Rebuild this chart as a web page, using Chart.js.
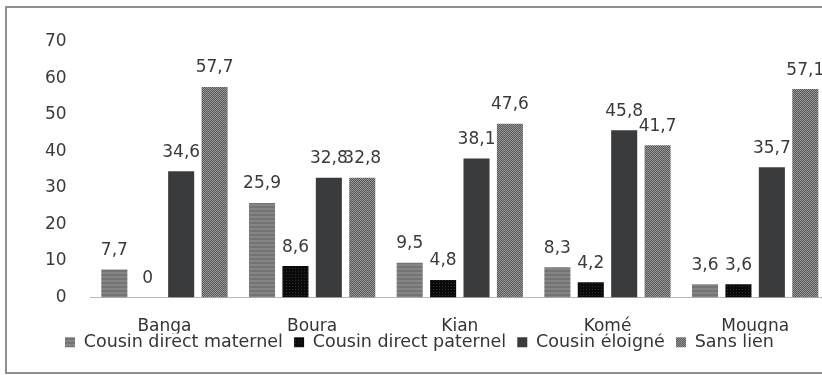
<!DOCTYPE html>
<html>
<head>
<meta charset="utf-8">
<script src="https://cdn.jsdelivr.net/npm/chart.js@4/dist/chart.umd.min.js"></script>
<style>
  html, body { margin: 0; padding: 0; background: #fff; overflow: hidden; }
  #frame { position: absolute; left: 5px; top: 6px; width: 900px; height: 364px;
           border: 2px solid #8f8f8f; border-right: none; }
  #wrap { position: absolute; left: 0; top: 0; width: 832px; height: 375px; }
</style>
</head>
<body>
<div id="frame"></div>
<div id="wrap"><canvas id="parente" width="832" height="375"></canvas></div>
<script>
let villages = ['Banga', 'Boura', 'Kian', 'Komé', 'Mougna']
let maternel = [7.7, 25.9, 9.5, 8.3, 3.6]
let paternel = [0, 8.6, 4.8, 4.2, 3.6]
let eloigne = [34.6, 32.8, 38.1, 45.8, 35.7]
let sansLien = [57.7, 32.8, 47.6, 41.7, 57.1]
let yTicks = [0, 10, 20, 30, 40, 50, 60, 70]

let FONT = 'DejaVu Sans'

// little textures like the scanned original
function makePattern(w, h, draw) {
  let c = document.createElement('canvas')
  c.width = w
  c.height = h
  let g = c.getContext('2d')
  draw(g)
  return g.createPattern(c, 'repeat')
}

let stripeGray = makePattern(4, 4, g => {
  g.fillStyle = '#747474'; g.fillRect(0, 0, 4, 4)
  g.fillStyle = '#858585'; g.fillRect(0, 0, 4, 2)
})
let dotBlack = makePattern(3, 3, g => {
  g.fillStyle = '#0a0a0a'; g.fillRect(0, 0, 3, 3)
  g.fillStyle = '#2c2c2c'; g.fillRect(1, 1, 1, 1)
})
let checkGray = makePattern(2, 2, g => {
  g.fillStyle = '#5a5a5a'; g.fillRect(0, 0, 2, 2)
  g.fillStyle = '#959595'; g.fillRect(0, 0, 1, 1); g.fillRect(1, 1, 1, 1)
})

let valueLabels = {
  id: 'valueLabels',
  afterDatasetsDraw(chart) {
    let ctx = chart.ctx
    ctx.save()
    ctx.font = '17px "' + FONT + '"'
    ctx.fillStyle = '#3a3a3a'
    ctx.textAlign = 'center'
    ctx.textBaseline = 'middle'
    chart.data.datasets.forEach((ds, i) => {
      chart.getDatasetMeta(i).data.forEach((bar, j) => {
        ctx.fillText(String(ds.data[j]).replace('.', ','), bar.x, bar.y - 19)
      })
    })
    ctx.restore()
  }
}

let parente = document.getElementById('parente').getContext('2d')

let chart = new Chart(parente, {
  type: 'bar',
  data: {
    labels: villages,
    datasets: [
      { label: 'Cousin direct maternel', data: maternel, backgroundColor: stripeGray },
      { label: 'Cousin direct paternel', data: paternel, backgroundColor: dotBlack },
      { label: 'Cousin éloigné', data: eloigne, backgroundColor: '#393b3d' },
      { label: 'Sans lien', data: sansLien, backgroundColor: checkGray }
    ]
  },
  options: {
    responsive: false,
    animation: false,
    layout: { padding: { top: 42, left: 21, right: 3, bottom: 14 } },
    datasets: { bar: { categoryPercentage: 0.905, barPercentage: 0.78 } },
    scales: {
      x: {
        grid: { display: false, drawTicks: false },
        border: { color: '#b8b8b8', width: 1 },
        ticks: { color: '#353535', font: { family: FONT, size: 17 }, padding: 19 },
        // the names sit right above the legend, so keep the axis box short
        afterFit: scale => { scale.height = 36 }
      },
      y: {
        min: 0,
        max: 70,
        afterBuildTicks: axis => { axis.ticks = yTicks.map(v => ({ value: v })) },
        grid: { display: false, drawTicks: false },
        border: { display: false },
        ticks: { color: '#3a3a3a', font: { family: FONT, size: 17 }, padding: 24 }
      }
    },
    plugins: {
      legend: {
        position: 'bottom',
        labels: {
          color: '#353535',
          font: { family: FONT, size: 17.5 },
          boxWidth: 10,
          boxHeight: 10,
          padding: 0,
          generateLabels: c => Chart.defaults.plugins.legend.labels.generateLabels(c)
            .map(item => Object.assign(item, { text: item.text + '  ' }))
        }
      },
      tooltip: { enabled: false }
    }
  },
  plugins: [valueLabels]
})
</script>
</body>
</html>
